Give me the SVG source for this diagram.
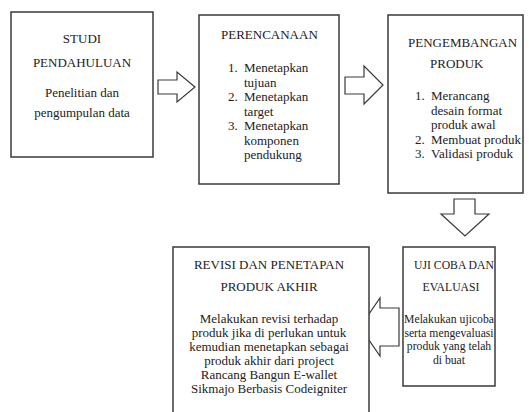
<svg xmlns="http://www.w3.org/2000/svg" width="529" height="412" viewBox="0 0 529 412">
<style>
.box{fill:#fff;stroke:#3a3a3a;stroke-width:1.5}
.arr{fill:#fff;stroke:#3a3a3a;stroke-width:1.2;stroke-linejoin:miter}
text{font-family:"Liberation Serif","Times New Roman",serif;font-size:13px;fill:#222}
.c{text-anchor:middle}
.s{font-size:11.7px}
</style>
<rect width="529" height="412" fill="#fff"/>
<g id="connectors">
<polygon class="arr" points="158,80 177,80 177,72 195,87 177,102 177,94 158,94"/>
<polygon class="arr" points="345,77 364,77 364,66 383,85 364,104 364,94 345,94"/>
<polygon class="arr" points="454,199 475,199 475,214 489,214 465,236 441,214 454,214"/>
<polygon class="arr" points="399,308 380,308 380,298 360,327 380,356 380,346 399,346"/>
</g>
<g id="studi">
<rect class="box" x="11" y="12" width="142" height="145"/>
<text class="c" x="82" y="43">STUDI</text>
<text class="c" x="82" y="67">PENDAHULUAN</text>
<text class="c" x="82" y="97">Penelitian dan</text>
<text class="c" x="82" y="117">pengumpulan data</text>
</g>
<g id="perencanaan">
<rect class="box" x="199" y="15" width="140" height="169"/>
<text x="221" y="39">PERENCANAAN</text>
<text x="228" y="72">1.</text><text x="244" y="72">Menetapkan</text>
<text x="244" y="86.5">tujuan</text>
<text x="228" y="101">2.</text><text x="244" y="101">Menetapkan</text>
<text x="244" y="115.5">target</text>
<text x="228" y="130">3.</text><text x="244" y="130">Menetapkan</text>
<text x="244" y="144.5">komponen</text>
<text x="244" y="159">pendukung</text>
</g>
<g id="pengembangan">
<rect class="box" x="388" y="15" width="135" height="178"/>
<text x="408" y="47">PENGEMBANGAN</text>
<text x="430" y="68">PRODUK</text>
<text x="415" y="100">1.</text><text x="431" y="100">Merancang</text>
<text x="431" y="114.5">desain format</text>
<text x="431" y="129">produk awal</text>
<text x="415" y="143.5">2.</text><text x="431" y="143.5">Membuat produk</text>
<text x="415" y="158">3.</text><text x="431" y="158">Validasi produk</text>
</g>
<g id="ujicoba">
<rect class="box" x="403" y="247" width="92" height="139"/>
<text class="c s" x="454" y="269">UJI COBA DAN</text>
<text class="c s" x="451" y="291">EVALUASI</text>
<text class="c s" x="449" y="323">Melakukan ujicoba</text>
<text class="c s" x="449" y="336.5">serta mengevaluasi</text>
<text class="c s" x="449" y="350">produk yang telah</text>
<text class="c s" x="449" y="363.5">di buat</text>
</g>
<g id="revisi">
<rect class="box" x="173" y="247" width="196" height="180"/>
<text class="c" x="269" y="269">REVISI DAN PENETAPAN</text>
<text class="c" x="269" y="291">PRODUK AKHIR</text>
<text class="c" x="269" y="323">Melakukan revisi terhadap</text>
<text class="c" x="269" y="337">produk jika di perlukan untuk</text>
<text class="c" x="269" y="351">kemudian menetapkan sebagai</text>
<text class="c" x="269" y="365">produk akhir dari project</text>
<text class="c" x="269" y="379">Rancang Bangun E-wallet</text>
<text class="c" x="269" y="393">Sikmajo Berbasis Codeigniter</text>
</g>
</svg>
